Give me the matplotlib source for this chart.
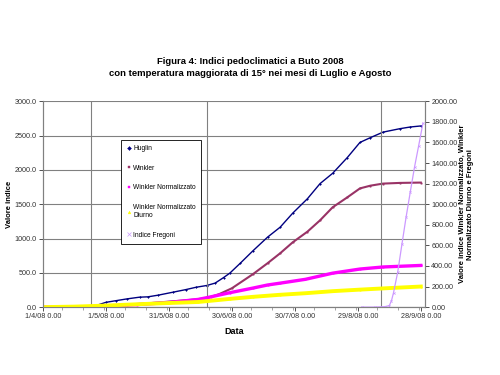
import matplotlib
matplotlib.use("Agg")
import matplotlib.pyplot as plt
import matplotlib.dates as mdates
import pandas as pd

plt.rcParams['font.family'] = ['Liberation Sans', 'DejaVu Sans']

start = pd.Timestamp('2008-04-01')

# days after 1/4/08 and values
huglin_days = [0, 20, 25, 30, 35, 40, 46, 50, 55, 62, 68, 73, 78, 82, 86, 89, 94, 100, 107,
               113, 119, 126, 132, 138, 145, 151, 156, 162, 170, 175, 180]
huglin_vals = [0, 0, 20, 70, 95, 120, 145, 150, 175, 218, 255, 290, 315, 350, 430, 495, 640, 820, 1020,
               1165, 1370, 1580, 1800, 1950, 2180, 2400, 2470, 2550, 2600, 2625, 2640]

winkler_days = [0, 20, 30, 40, 50, 60, 70, 78, 84, 90, 100, 107, 113, 119, 126, 132, 138, 145,
                151, 156, 162, 170, 180]
winkler_vals = [0, 0, 15, 35, 55, 80, 105, 130, 190, 275, 480, 640, 785, 945, 1100, 1265, 1455, 1600,
                1730, 1770, 1800, 1810, 1815]

wnorm_days = [0, 20, 30, 45, 60, 74, 80, 89, 100, 107, 113, 125, 138, 151, 162, 180]
wnorm_vals = [0, 0, 8, 25, 45, 75, 100, 140, 185, 215, 233, 270, 330, 370, 390, 405]

wdiurno_days = [0, 15, 30, 45, 60, 74, 89, 100, 113, 125, 138, 151, 165, 180]
wdiurno_vals = [0, 5, 15, 28, 40, 50, 80, 100, 120, 135, 155, 170, 185, 200]

fregoni_days = [152, 158, 163, 165, 166, 167, 169, 171, 173, 175, 177, 179, 181]
fregoni_vals = [0, 0, 5, 15, 60, 140, 340, 610, 875, 1120, 1360, 1570, 1785]

grid_days = [23, 78, 161]
tick_labels = ['1/4/08 0.00', '1/5/08 0.00', '31/5/08 0.00', '30/6/08 0.00',
               '30/7/08 0.00', '29/8/08 0.00', '28/9/08 0.00']


def to_dates(days):
    return [start + pd.Timedelta(days=d) for d in days]


fig = plt.figure(figsize=(5, 3.75), dpi=100)
ax = fig.add_axes([0.086, 0.181, 0.764, 0.549])
ax2 = ax.twinx()

h1, = ax.plot(to_dates(huglin_days), huglin_vals, color='#000080', lw=1.0,
              marker='D', ms=1.0, mew=0.3, label='Huglin')
h2, = ax.plot(to_dates(winkler_days), winkler_vals, color='#993366', lw=1.5,
              marker='s', ms=1.0, mew=0.3, label='Winkler')
h3, = ax2.plot(to_dates(wnorm_days), wnorm_vals, color='#FF00FF', lw=2.4,
               marker='s', ms=1.0, mew=0.3, label='Winkler Normalizzato')
h4, = ax2.plot(to_dates(wdiurno_days), wdiurno_vals, color='#FFFF00', lw=2.8,
               marker='^', ms=1.0, mew=0.3, label='Winkler Normalizzato\nDiurno')
h5, = ax2.plot(to_dates(fregoni_days), fregoni_vals, color='#CC99FF', lw=0.9,
               marker='x', ms=1.6, mew=0.5, label='Indice Fregoni')

ax.set_xlim(start, start + pd.Timedelta(days=182))
ax.set_ylim(0, 3000)
ax2.set_ylim(0, 2000)

ticks = [start + pd.Timedelta(days=30 * i) for i in range(7)]
ax.set_xticks(ticks)
ax.set_xticklabels(tick_labels)
ax.xaxis.set_minor_locator(mdates.DayLocator(interval=10))
ax.set_yticks(range(0, 3001, 500))
ax.set_yticklabels([f'{v:.1f}' for v in range(0, 3001, 500)])
ax2.set_yticks(range(0, 2001, 200))
ax2.set_yticklabels([f'{v:.2f}' for v in range(0, 2001, 200)])

ax.yaxis.grid(True, color='#808080', lw=0.8)
for d in grid_days:
    ax.axvline(start + pd.Timedelta(days=d), color='#808080', lw=0.8)

for a in (ax, ax2):
    for s in a.spines.values():
        s.set_color('#808080')
        s.set_linewidth(0.8)
    a.tick_params(labelsize=5.2, colors='#333333', width=0.6, length=3, pad=1.5)
ax.tick_params(axis='x', which='minor', length=2, width=0.5, color='#808080')
ax.spines['top'].set_visible(False)
ax2.spines['top'].set_visible(False)

ax.set_xlabel('Data', fontsize=6.5, fontweight='bold', labelpad=5)
ax.set_ylabel('Valore indice', fontsize=5.5, fontweight='bold', labelpad=1)
ax2.set_ylabel('Valore indice Winkler Normalizzato, Winkler\nNormalizzato Diurno e Fregoni',
               fontsize=5.5, fontweight='bold', labelpad=1)

fig.text(0.5, 0.82, 'Figura 4: Indici pedoclimatici a Buto 2008\n'
         'con temperatura maggiorata di 15° nei mesi di Luglio e Agosto',
         ha='center', va='center', fontsize=6.8, fontweight='bold', linespacing=1.3)

leg = ax2.legend(handles=[h1, h2, h3, h4, h5], loc='upper left',
                 bbox_to_anchor=(0.196, 0.83), fontsize=4.8, frameon=True,
                 fancybox=False, edgecolor='black', framealpha=1,
                 handlelength=0.6, handletextpad=0.4, labelspacing=1.9,
                 borderpad=0.8, markerscale=2.0)
leg.get_frame().set_linewidth(0.6)
for line in leg.get_lines():
    line.set_linestyle('none')

fig.savefig('out.png', dpi=100)
